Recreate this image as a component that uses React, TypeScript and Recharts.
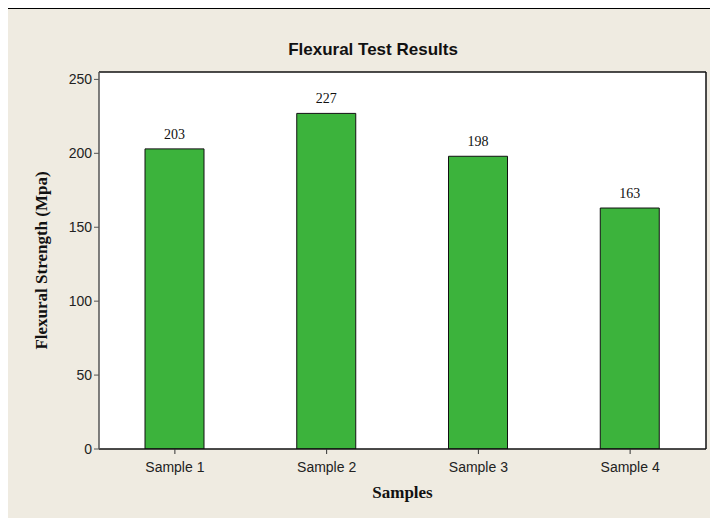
import React from 'react';
import { BarChart, Bar, XAxis, YAxis, CartesianGrid, LabelList } from 'recharts';

const SAMPLES = ['Sample 1', 'Sample 2', 'Sample 3', 'Sample 4'];
const STRENGTH = [203, 227, 198, 163];
const Y_TICKS = [0, 50, 100, 150, 200, 250];

const data = SAMPLES.map((name, i) => ({ name, strength: STRENGTH[i] }));

const SANS = '"Liberation Sans", Arial, sans-serif';
const SERIF = '"Liberation Serif", "Times New Roman", serif';

export default function App() {
  return (
    <div
      style={{
        width: 720,
        height: 515,
        background: '#EFEBE1',
        borderLeft: '1px solid #000',
        borderTop: '1px solid #000',
        position: 'relative',
        marginLeft: -1,
      }}
    >
      <div
        style={{
          position: 'absolute',
          top: 31,
          left: 0,
          width: 730,
          textAlign: 'center',
          fontFamily: SANS,
          fontWeight: 'bold',
          fontSize: 17,
          color: '#111',
        }}
      >
        Flexural Test Results
      </div>
      <BarChart
        width={710}
        height={508}
        data={data}
        margin={{ top: 62, right: 11, bottom: 0, left: 41 }}
        barSize={59}
      >
        <CartesianGrid fill="#ffffff" horizontal={false} vertical={false} />
        <XAxis
          dataKey="name"
          tick={{ fill: '#222', fontSize: 14, fontFamily: SANS, dy: 6 }}
          axisLine={{ stroke: '#111', strokeWidth: 1.5 }}
          tickLine={{ stroke: '#333' }}
          tickSize={5}
          height={68}
          label={{
            value: 'Samples',
            position: 'insideBottom',
            offset: 19,
            fill: '#111',
            fontFamily: SERIF,
            fontWeight: 'bold',
            fontSize: 17,
          }}
        />
        <XAxis xAxisId="top" orientation="top" dataKey="name" tick={false} tickLine={false} axisLine={{ stroke: '#111', strokeWidth: 1.5 }} height={1} />
        <YAxis
          domain={[0, 255]}
          ticks={Y_TICKS}
          allowDataOverflow
          tick={{ fill: '#222', fontSize: 14, fontFamily: SANS }}
          axisLine={{ stroke: '#555', strokeWidth: 1.5 }}
          tickLine={{ stroke: '#555' }}
          tickSize={5}
          width={50}
          label={{
            value: 'Flexural Strength (Mpa)',
            angle: -90,
            position: 'insideLeft',
            offset: -8,
            style: { textAnchor: 'middle' },
            fill: '#111',
            fontFamily: SERIF,
            fontWeight: 'bold',
            fontSize: 17,
          }}
        />
        <YAxis yAxisId="right" orientation="right" domain={[0, 255]} tick={false} tickLine={false} axisLine={{ stroke: '#111', strokeWidth: 1.5 }} width={1} />
        <Bar dataKey="strength" fill="#3CB33C" stroke="#111" strokeWidth={1} isAnimationActive={false}>
          <LabelList
            dataKey="strength"
            position="top"
            offset={10}
            fill="#111"
            fontFamily={SERIF}
            fontSize={14}
          />
        </Bar>
      </BarChart>
    </div>
  );
}
